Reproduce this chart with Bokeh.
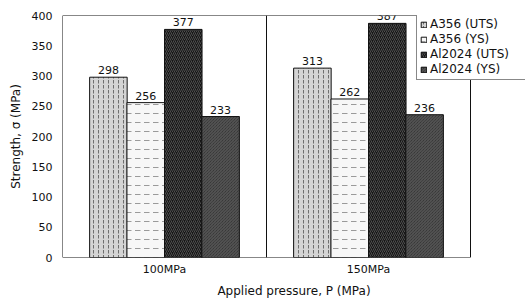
from bokeh.plotting import figure
from bokeh.models import (ColumnDataSource, Range1d, Span, Legend, LegendItem,
                          FixedTicker, BoxAnnotation)
from bokeh.core.properties import value
from bokeh.embed import file_html
from bokeh.resources import INLINE

pressures = ["100MPa", "150MPa"]
series_names = ["A356 (UTS)", "A356 (YS)", "Al2024 (UTS)", "Al2024 (YS)"]
a356_uts = [298, 313]
a356_ys = [256, 262]
al2024_uts = [377, 387]
al2024_ys = [233, 236]
y_ticks = [0, 50, 100, 150, 200, 250, 300, 350, 400]

centers = [i + 0.5 for i in range(len(pressures))]
offsets = [-0.275, -0.092, 0.092, 0.275]
series_cols = ["a356_uts", "a356_ys", "al2024_uts", "al2024_ys"]
series_vals = [a356_uts, a356_ys, al2024_uts, al2024_ys]

data = dict(c=centers)
for col, vals, off in zip(series_cols, series_vals, offsets):
    data[col] = vals
    data["x_" + col] = [c + off for c in centers]
    data["t_" + col] = [str(v) for v in vals]
src = ColumnDataSource(data)

FONT = "DejaVu Sans"
n = len(pressures)
p = figure(x_range=Range1d(0, n * 463 / 408), y_range=Range1d(0, 400),
           width=528, height=300, output_backend="svg", toolbar_location=None,
           min_border_left=62, min_border_right=3, min_border_top=15, min_border_bottom=40)

styles = [
    dict(fill_color="#d4d4d4", hatch_pattern=":", hatch_color="#6e6e6e", hatch_scale=5, hatch_weight=1),
    dict(fill_color="#f7f7f7", hatch_pattern='"', hatch_color="#9a9a9a", hatch_scale=9, hatch_weight=1),
    dict(fill_color="#161616", hatch_pattern="/", hatch_color="#4e4e4e", hatch_scale=4, hatch_weight=1),
    dict(fill_color="#2b2b2b", hatch_pattern="\\", hatch_color="#5e5e5e", hatch_scale=3, hatch_weight=1),
]
W = 0.184
renderers = []
for col, st in zip(series_cols, styles):
    r = p.vbar(x="x_" + col, top=col, width=W, source=src,
               line_color="#111111", line_width=1, **st)
    renderers.append(r)
    p.text(x="x_" + col, y=col, text="t_" + col, source=src,
           text_align="center", text_baseline="bottom", y_offset=-3,
           text_font=value(FONT), text_font_size="11px", text_color="#111111")

# plot box (frame) and category separator
p.add_layout(BoxAnnotation(left=0, right=n, bottom=0, top=400, fill_alpha=0,
                           line_color="#111111", line_width=1, line_alpha=1))
for k in range(1, n):
    p.add_layout(Span(location=k, dimension="height", line_color="#111111", line_width=1))

legend = Legend(items=[LegendItem(label=s, renderers=[r]) for s, r in zip(series_names, renderers)],
                location=(354, 177), label_text_font=FONT, label_text_font_size="12px",
                label_text_color="#111111",
                glyph_width=7, glyph_height=7, label_height=14, spacing=1, padding=3,
                label_width=92, margin=0, border_line_color="#111111", border_line_width=1,
                label_standoff=3, background_fill_alpha=1)
p.add_layout(legend, "center")

p.xgrid.visible = False
p.ygrid.visible = False
p.outline_line_color = None
p.background_fill_color = "white"

p.xaxis.ticker = FixedTicker(ticks=centers)
p.xaxis.major_label_overrides = {c: s for c, s in zip(centers, pressures)}
p.yaxis.ticker = FixedTicker(ticks=y_ticks)
for ax in (p.xaxis[0], p.yaxis[0]):
    ax.axis_line_color = None
    ax.major_tick_out = 0
    ax.major_tick_in = 0
    ax.minor_tick_out = 0
    ax.minor_tick_in = 0
    ax.major_label_text_font = FONT
    ax.major_label_text_font_size = "11px"
    ax.major_label_text_color = "#111111"
    ax.axis_label_text_font = FONT
    ax.axis_label_text_font_size = "12px"
    ax.axis_label_text_font_style = "normal"
    ax.axis_label_text_color = "#111111"
p.xaxis.axis_label = "Applied pressure, P (MPa)"
p.yaxis.axis_label = "Strength, σ (MPa)"
p.xaxis.major_label_standoff = 5
p.xaxis.axis_label_standoff = 5
p.yaxis.major_label_standoff = 10
p.yaxis.axis_label_standoff = 6

open("out.html", "w").write(file_html(p, INLINE))
